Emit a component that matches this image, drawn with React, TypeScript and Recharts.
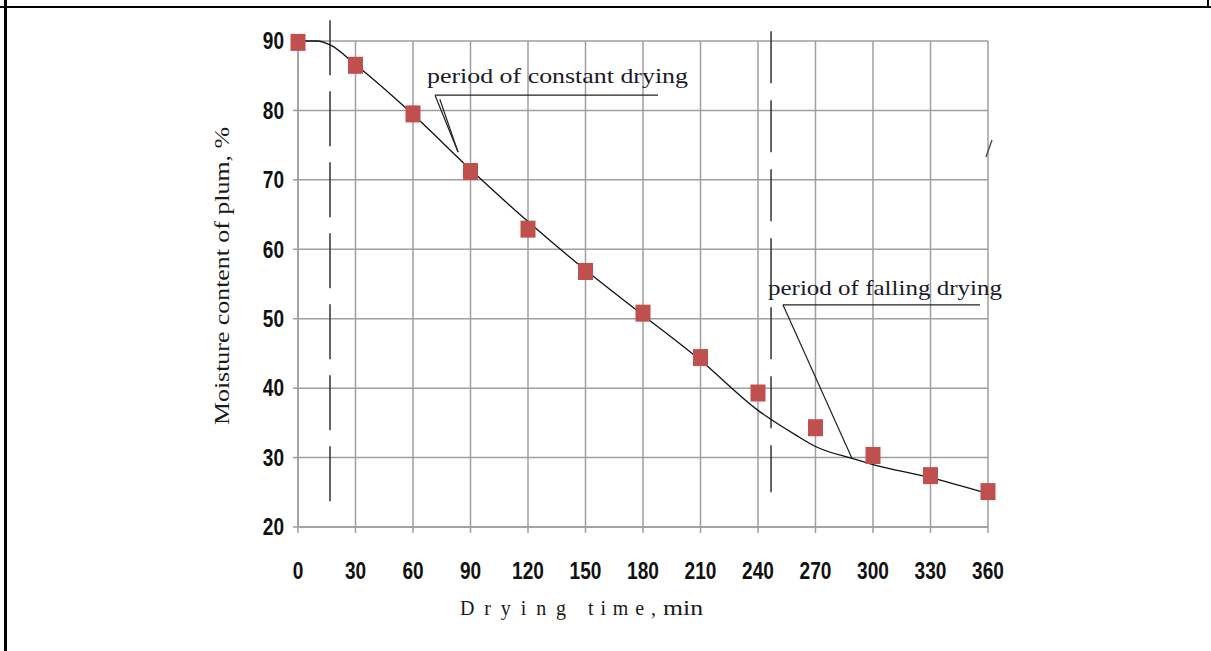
import React from "react";
import {
    ComposedChart,
    Line,
    Scatter,
    XAxis,
    YAxis,
    CartesianGrid,
    ReferenceLine,
    Customized,
} from "recharts";

// measured drying points
const timeMin = [0, 30, 60, 90, 120, 150, 180, 210, 240, 270, 300, 330, 360];
const moisture = [89.8, 86.5, 79.5, 71.2, 62.9, 56.8, 50.8, 44.4, 39.3, 34.3, 30.3, 27.4, 25.1];

// approximating curve drawn through the points
const curveTime = [0, 10, 17, 30, 60, 90, 120, 150, 180, 210, 240, 260, 270, 290, 300, 330, 360];
const curveMoisture = [90, 90, 89.4, 86.6, 79.4, 71.5, 64, 57, 50.5, 44, 36.8, 33.2, 31.6, 29.8, 29, 27.1, 24.8];

const xTicks = [0, 30, 60, 90, 120, 150, 180, 210, 240, 270, 300, 330, 360];
const yTicks = [20, 30, 40, 50, 60, 70, 80, 90];

const points = timeMin.map((t, i) => ({ t, m: moisture[i] }));
const curve = curveTime.map((t, i) => ({ t, m: curveMoisture[i] }));

const serif = "'Liberation Serif', 'Times New Roman', serif";

// narrow bold digits, squeezed to the width of the original labels
const NarrowTick = (props: any) => {
    const { x, y, payload, textAnchor, vertical } = props;
    const label = String(payload.value);
    return (
        <text
            x={x}
            y={y}
            dy={vertical ? "0.36em" : "0.71em"}
            textAnchor={textAnchor}
            fontFamily="'Liberation Sans', Arial, sans-serif"
            fontWeight="bold"
            fontSize={23}
            fill="#111"
            textLength={label.length * 10.6}
            lengthAdjust="spacingAndGlyphs"
        >
            {label}
        </text>
    );
};

const Square = (props: any) => {
    const { cx, cy } = props;
    if (cx == null || cy == null) return null;
    return <rect x={cx - 7.5} y={cy - 8.5} width={15} height={17} fill="#c0504d" />;
};

const Labels = () => (
    <g>
        <text x={427} y={83} fontFamily={serif} fontSize={22} fill="#1a1a2a" textLength={261} lengthAdjust="spacingAndGlyphs">
            period of constant drying
        </text>
        <text x={768} y={295} fontFamily={serif} fontSize={22} fill="#1a1a2a" textLength={234} lengthAdjust="spacingAndGlyphs">
            period of falling drying
        </text>
        <text
            x={229}
            y={276}
            transform="rotate(-90 229 276)"
            textAnchor="middle"
            fontFamily={serif}
            fontSize={20}
            fill="#1a1a1a"
            textLength={298}
            lengthAdjust="spacingAndGlyphs"
        >
            Moisture content  of plum, %
        </text>
        <text y={615} fontFamily={serif} fontSize={20} fill="#1a1a1a">
            <tspan x={460} textLength={106} lengthAdjust="spacing">Drying</tspan>
            <tspan x={588} textLength={68} lengthAdjust="spacing">time,</tspan>
            <tspan x={663} textLength={40} lengthAdjust="spacingAndGlyphs">min</tspan>
        </text>
        <line x1={992} y1={140} x2={986} y2={157} stroke="#555" strokeWidth={1.5} />
    </g>
);

const App: React.FC = () => {
    return (
        <div style={{ position: "absolute", left: 0, top: 0, width: 1211, height: 651, background: "#fff" }}>
            <div style={{ position: "absolute", left: 4, top: 0, width: 3, height: 651, background: "#000" }} />
            <div style={{ position: "absolute", left: 0, top: 6, width: 1211, height: 2, background: "#000" }} />
            <div style={{ position: "absolute", left: 1207, top: 0, width: 2, height: 7, background: "#000" }} />
            <ComposedChart
                width={1211}
                height={651}
                margin={{ top: 41, right: 223, bottom: 84, left: 238 }}
            >
                <CartesianGrid stroke="#9e9e9e" strokeWidth={1.5} />
                <XAxis
                    type="number"
                    dataKey="t"
                    domain={[0, 360]}
                    ticks={xTicks}
                    height={40}
                    tick={<NarrowTick />}
                    tickSize={6}
                    tickMargin={30}
                    stroke="#9e9e9e"
                    strokeWidth={1.5}
                />
                <YAxis
                    type="number"
                    dataKey="m"
                    domain={[20, 90]}
                    ticks={yTicks}
                    width={60}
                    tick={<NarrowTick vertical />}
                    tickSize={5}
                    tickMargin={9}
                    stroke="#9e9e9e"
                    strokeWidth={1.5}
                />
                <ReferenceLine
                    segment={[{ x: 16.7, y: 93 }, { x: 16.7, y: 22.2 }]}
                    stroke="#333"
                    strokeWidth={1.5}
                    strokeDasharray="55 16"
                    ifOverflow="visible"
                />
                <ReferenceLine
                    segment={[{ x: 246.8, y: 91.4 }, { x: 246.8, y: 25 }]}
                    stroke="#333"
                    strokeWidth={1.5}
                    strokeDasharray="52 17"
                    ifOverflow="visible"
                />
                {/* callout for constant drying */}
                <ReferenceLine segment={[{ x: 71.5, y: 82.2 }, { x: 187.8, y: 82.2 }]} stroke="#222" strokeWidth={1.2} />
                <ReferenceLine segment={[{ x: 71.5, y: 82.2 }, { x: 83.5, y: 74 }]} stroke="#222" strokeWidth={1.2} />
                <ReferenceLine segment={[{ x: 74, y: 81.6 }, { x: 83.5, y: 74 }]} stroke="#222" strokeWidth={1.2} />
                {/* callout for falling drying */}
                <ReferenceLine segment={[{ x: 253, y: 52 }, { x: 355.8, y: 52 }]} stroke="#222" strokeWidth={1.2} />
                <ReferenceLine segment={[{ x: 253, y: 52 }, { x: 289, y: 29.9 }]} stroke="#222" strokeWidth={1.2} />
                <Line
                    data={curve}
                    dataKey="m"
                    type="monotone"
                    stroke="#111"
                    strokeWidth={1.3}
                    dot={false}
                    isAnimationActive={false}
                />
                <Scatter data={points} dataKey="m" shape={<Square />} isAnimationActive={false} />
                <Customized component={Labels} />
            </ComposedChart>
        </div>
    );
};

export default App;
